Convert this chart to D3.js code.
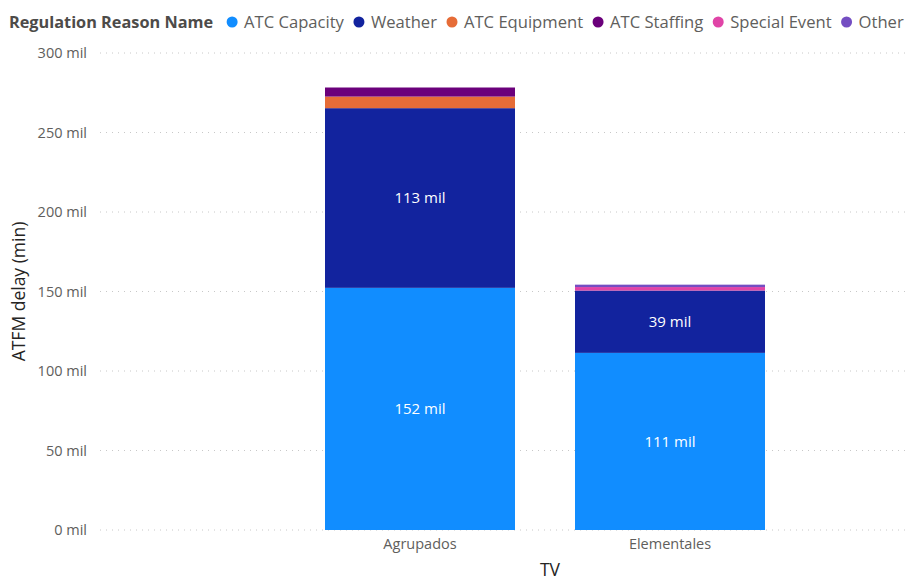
<!DOCTYPE html>
<html>
<head>
<meta charset="utf-8">
<script src="https://cdn.jsdelivr.net/npm/d3@7/dist/d3.min.js"></script>
<style>
  html, body { margin: 0; padding: 0; background: #fff; }
  svg { display: block; font-family: "Open Sans", "Noto Sans", sans-serif; }
</style>
</head>
<body>
<svg id="chart" width="914" height="577"></svg>
<script>
// Categories (TV type) and regulation reasons
const categories = ["Agrupados", "Elementales"];
const reasons = ["ATC Capacity", "Weather", "ATC Equipment", "ATC Staffing", "Special Event", "Other"];
const colors = ["#118DFF", "#12239E", "#E66C37", "#6B007B", "#E044A7", "#744EC2"];

// ATFM delay per reason, in thousands of minutes ("mil")
const atcCapacity  = [152.3, 111.4];
const weather      = [113.0, 39.2];
const atcEquipment = [7.3, 0];
const atcStaffing  = [5.7, 0];
const specialEvent = [0, 2.2];
const other        = [0, 1.5];

const yTicks = [0, 50, 100, 150, 200, 250, 300];

const seriesValues = [atcCapacity, weather, atcEquipment, atcStaffing, specialEvent, other];
const rows = categories.map((c, i) => {
  const r = { tv: c };
  reasons.forEach((k, j) => { r[k] = seriesValues[j][i]; });
  return r;
});
const stacked = d3.stack().keys(reasons)(rows);

const svg = d3.select("#chart");
const plotLeft = 100, plotRight = 910, plotTop = 53, plotBottom = 530;

const x = d3.scaleBand().domain(categories).range([325, 765]).paddingInner(0.24).paddingOuter(0);
const y = d3.scaleLinear().domain([0, 300]).range([plotBottom, plotTop]);
const color = d3.scaleOrdinal().domain(reasons).range(colors);

// Dotted gridlines
svg.append("g").selectAll("line").data(yTicks).join("line")
  .attr("x1", plotLeft).attr("x2", plotRight)
  .attr("y1", d => y(d)).attr("y2", d => y(d))
  .attr("stroke", "#c8c8c8").attr("stroke-width", 1)
  .attr("stroke-dasharray", "1,5");

// Y axis tick labels
const yAxis = d3.axisLeft(y).tickValues(yTicks).tickSize(0).tickPadding(0)
  .tickFormat(d => d + " mil");
svg.append("g").attr("transform", "translate(87,0)").call(yAxis)
  .call(g => g.select(".domain").remove())
  .call(g => g.selectAll("text").attr("fill", "#605E5C").attr("font-size", 14.5)
    .attr("font-family", "'Open Sans', sans-serif"));

// X axis tick labels
const xAxis = d3.axisBottom(x).tickSize(0).tickPadding(0);
svg.append("g").attr("transform", "translate(0,539)").call(xAxis)
  .call(g => g.select(".domain").remove())
  .call(g => g.selectAll("text").attr("fill", "#605E5C").attr("font-size", 14.5)
    .attr("font-family", "'Open Sans', sans-serif"));

// Stacked bars
svg.append("g").selectAll("g").data(stacked).join("g")
  .attr("fill", d => color(d.key))
  .selectAll("rect").data(d => d).join("rect")
  .attr("x", d => x(d.data.tv))
  .attr("width", x.bandwidth())
  .attr("y", d => y(d[1]))
  .attr("height", d => Math.max(0, y(d[0]) - y(d[1])));

// Data labels on the two large segments
const labelSeries = ["ATC Capacity", "Weather"];
stacked.filter(s => labelSeries.includes(s.key)).forEach(s => {
  svg.append("g").selectAll("text").data(s).join("text")
    .attr("x", d => x(d.data.tv) + x.bandwidth() / 2)
    .attr("y", d => (y(d[0]) + y(d[1])) / 2)
    .attr("dy", "0.35em")
    .attr("text-anchor", "middle")
    .attr("fill", "#ffffff")
    .attr("font-size", 15)
    .text(d => Math.floor(d[1] - d[0]) + " mil");
});

// Axis titles
svg.append("text")
  .attr("transform", "translate(25," + ((plotTop + plotBottom) / 2) + ") rotate(-90)")
  .attr("text-anchor", "middle").attr("fill", "#252423").attr("font-size", 17.5)
  .text("ATFM delay (min)");
svg.append("text")
  .attr("x", 550).attr("y", 576).attr("text-anchor", "middle")
  .attr("fill", "#252423").attr("font-size", 17.5)
  .text("TV");

// Legend
const legend = svg.append("g").attr("transform", "translate(9,22)");
const title = legend.append("text").attr("x", 0).attr("dy", "0.35em")
  .attr("font-weight", "bold").attr("font-size", 16.3).attr("fill", "#4d4b49")
  .text("Regulation Reason Name");
let lx = title.node().getComputedTextLength() + 13;
reasons.forEach(r => {
  legend.append("circle").attr("cx", lx + 6).attr("cy", 0).attr("r", 5.5).attr("fill", color(r));
  const t = legend.append("text").attr("x", lx + 18).attr("dy", "0.35em")
    .attr("font-size", 16.6).attr("fill", "#605E5C").text(r);
  lx += 18 + t.node().getComputedTextLength() + 9;
});
</script>
</body>
</html>
